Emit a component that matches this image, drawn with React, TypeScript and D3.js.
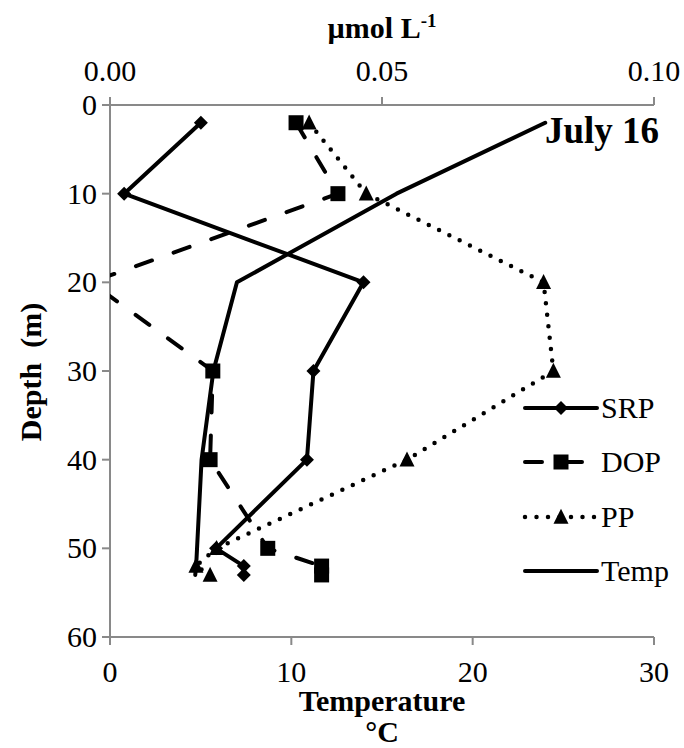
import React from "react";
import * as d3 from "d3";

// Sampling depths (m) for the July 16 profile
const depths = [2, 10, 20, 30, 40, 50, 52, 53];
// Phosphorus fractions, µmol L-1
const srp = [0.0167, 0.0026, 0.0466, 0.0374, 0.0362, 0.0195, 0.0246, 0.0246];
const dop = [0.0342, 0.0419, -0.0035, 0.0189, 0.0184, 0.029, 0.0389, 0.0389];
const pp = [0.0366, 0.0471, 0.0797, 0.0815, 0.0546, 0.0196, 0.0158, 0.0184];
// Water temperature, °C
const temp = [24.0, 15.8, 7.0, 5.7, 5.05, 4.8, 4.75, 4.7];

const depthTicks = [0, 10, 20, 30, 40, 50, 60];
const concTicks = [0, 0.05, 0.1];
const tempTicks = [0, 10, 20, 30];
const legendNames = ["SRP", "DOP", "PP", "Temp"];

const W = 684;
const H = 748;
const left = 110;
const right = 654;
const top = 105;
const bottom = 637;
const FONT = "Liberation Serif";
const AXIS = "#898989";

const xConc = d3.scaleLinear().domain([0, 0.1]).range([left, right]);
const xTemp = d3.scaleLinear().domain([0, 30]).range([left, right]);
const yDepth = d3.scaleLinear().domain([0, 60]).range([top, bottom]);

type Pt = [number, number];

const diamond = (cx: number, cy: number, r = 7) =>
  `M${cx},${cy - r}L${cx + r},${cy}L${cx},${cy + r}L${cx - r},${cy}Z`;
const square = (cx: number, cy: number, s = 15) =>
  `M${cx - s / 2},${cy - s / 2}h${s}v${s}h${-s}Z`;
const triangle = (cx: number, cy: number, s = 15) =>
  `M${cx},${cy - s * 0.55}L${cx + s / 2},${cy + s * 0.45}L${cx - s / 2},${cy + s * 0.45}Z`;

type Series = {
  name: string;
  values: number[];
  x: d3.ScaleLinear<number, number>;
  dash?: string;
  width: number;
  marker?: (cx: number, cy: number) => string;
};

const series: Series[] = [
  { name: "SRP", values: srp, x: xConc, width: 4, marker: diamond },
  { name: "DOP", values: dop, x: xConc, width: 4, dash: "17 23", marker: square },
  { name: "PP", values: pp, x: xConc, width: 4.5, dash: "0 11.5", marker: triangle },
  { name: "Temp", values: temp, x: xTemp, width: 4 },
];

export default function App() {
  const line = d3.line<Pt>().x((d) => d[0]).y((d) => d[1]);
  const legendY = [408, 462, 517, 571];

  return (
    <svg
      width={W}
      height={H}
      viewBox={`0 0 ${W} ${H}`}
      fontFamily={FONT}
      style={{ position: "absolute", left: 0, top: 0, background: "#fff" }}
    >
      <defs>
        <clipPath id="plotArea">
          <rect x={left} y={0} width={W - left} height={H} />
        </clipPath>
      </defs>
      <rect x={0} y={0} width={W} height={H} fill="#fff" />

      {/* Axes */}
      <g stroke={AXIS} strokeWidth={2} fill="none">
        <line x1={left} x2={right} y1={top} y2={top} />
        <line x1={left} x2={right} y1={bottom} y2={bottom} />
        <line x1={left} x2={left} y1={top} y2={bottom} />
        {concTicks.map((t) => (
          <line key={"ct" + t} x1={xConc(t)} x2={xConc(t)} y1={top - 8} y2={top} />
        ))}
        {tempTicks.map((t) => (
          <line key={"tt" + t} x1={xTemp(t)} x2={xTemp(t)} y1={bottom} y2={bottom + 8} />
        ))}
        {depthTicks.map((t) => (
          <line key={"dt" + t} x1={left - 8} x2={left} y1={yDepth(t)} y2={yDepth(t)} />
        ))}
      </g>

      {/* Tick labels */}
      <g fontSize={30} fill="#000" fontFamily={FONT}>
        {concTicks.map((t) => (
          <text key={"cl" + t} x={xConc(t)} y={81} textAnchor="middle">
            {d3.format(".2f")(t)}
          </text>
        ))}
        {tempTicks.map((t) => (
          <text key={"tl" + t} x={xTemp(t)} y={682} textAnchor="middle">
            {t}
          </text>
        ))}
        {depthTicks.map((t) => (
          <text key={"dl" + t} x={97} y={yDepth(t) + 10} textAnchor="end">
            {t}
          </text>
        ))}
      </g>

      {/* Axis titles */}
      <g fontSize={30} fontWeight="bold" fill="#000" fontFamily={FONT}>
        <text x={382} y={38} textAnchor="middle">
          µmol L<tspan fontSize={19} dy={-11}>-1</tspan>
        </text>
        <text x={382} y={711} textAnchor="middle">Temperature</text>
        <text x={382} y={742} textAnchor="middle">°C</text>
        <text
          transform="translate(41,372) rotate(-90)"
          textAnchor="middle"
          style={{ whiteSpace: "pre" }}
        >
          {"Depth  (m)"}
        </text>
      </g>

      {/* Profiles */}
      <g clipPath="url(#plotArea)">
        {series.map((s) => {
          const pts: Pt[] = s.values.map((v, i) => [s.x(v), yDepth(depths[i])]);
          return (
            <g key={s.name}>
              <path
                d={line(pts) || ""}
                fill="none"
                stroke="#000"
                strokeWidth={s.width}
                strokeDasharray={s.dash}
                strokeLinecap="round"
                strokeLinejoin="round"
              />
              {s.marker &&
                pts.map((p, i) => <path key={i} d={s.marker!(p[0], p[1])} fill="#000" />)}
            </g>
          );
        })}
      </g>

      <text x={545} y={143} fontSize={37} fontWeight="bold" fill="#000" fontFamily={FONT}>
        July 16
      </text>

      {/* Legend */}
      <g fontFamily={FONT}>
        {series.map((s, i) => (
          <g key={"lg" + s.name}>
            <line
              x1={525}
              x2={597}
              y1={legendY[i]}
              y2={legendY[i]}
              stroke="#000"
              strokeWidth={s.width}
              strokeDasharray={s.dash}
              strokeLinecap="round"
            />
            {s.marker && <path d={s.marker(561, legendY[i])} fill="#000" />}
            <text x={601} y={legendY[i] + 10} fontSize={30} fill="#000">
              {legendNames[i]}
            </text>
          </g>
        ))}
      </g>
    </svg>
  );
}
